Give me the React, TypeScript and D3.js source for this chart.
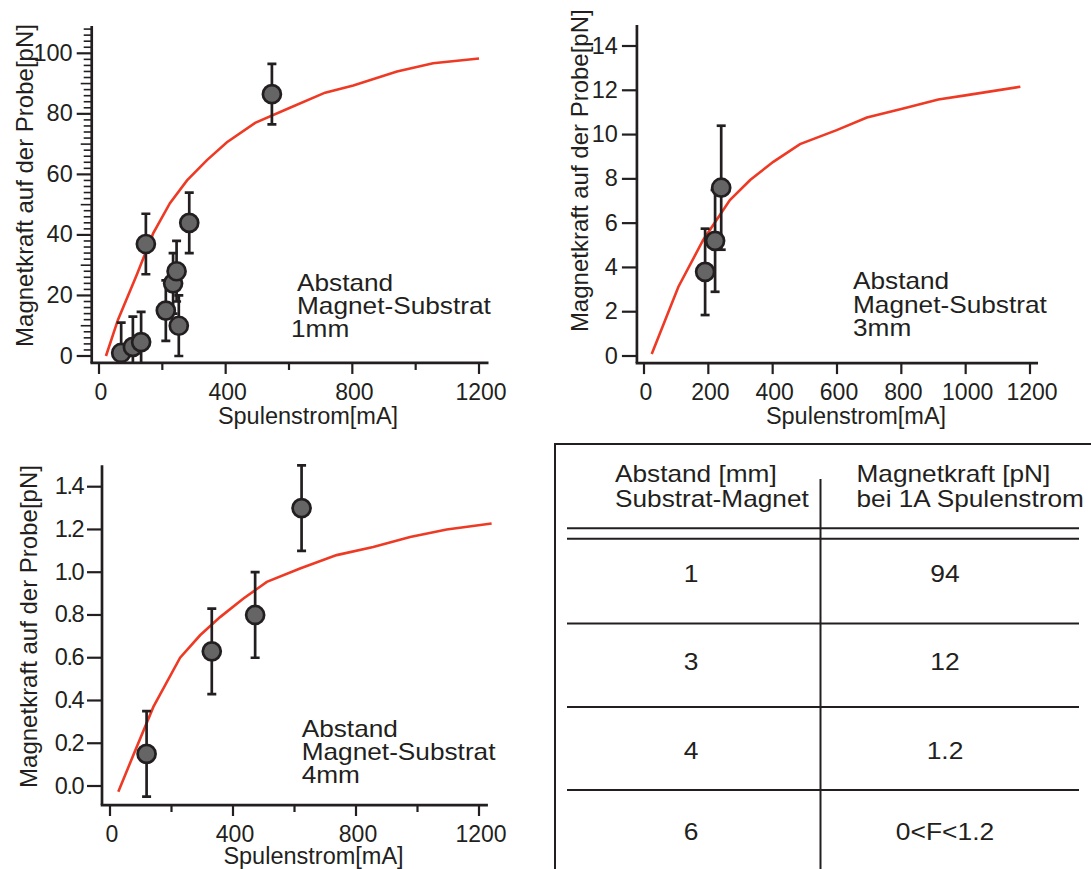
import React from 'react';
import * as d3 from 'd3';

// measured points, 1 mm distance
const current1mm = [70, 107, 133, 148, 211, 234, 245, 252, 285, 546];
const force1mm = [1, 3, 4.6, 37, 15, 24, 28, 10, 44, 86.5];
const err1mm = [10, 10, 10, 10, 10, 10, 10, 10, 10, 10];
const fitCurrent1mm = [22, 60, 120, 171, 224, 278, 341, 404, 493, 603, 714, 803, 941, 1055, 1200];
const fitForce1mm = [0, 12, 27, 40.5, 50.5, 58, 64.7, 70.6, 77, 82, 87, 89.4, 94, 96.7, 98.3];

// 3 mm
const current3mm = [190, 221, 240];
const force3mm = [3.8, 5.2, 7.6];
const err3mm = [1.95, 2.3, 2.8];
const fitCurrent3mm = [24, 107, 184, 267, 330, 402, 485, 599, 693, 806, 915, 1004, 1170];
const fitForce3mm = [0.09, 3.13, 5.24, 7.04, 7.95, 8.77, 9.57, 10.2, 10.77, 11.18, 11.58, 11.78, 12.16];

// 4 mm
const current4mm = [119, 331, 472, 623];
const force4mm = [0.15, 0.63, 0.8, 1.3];
const err4mm = [0.2, 0.2, 0.2, 0.2];
const fitCurrent4mm = [27, 76, 141, 228, 293, 358, 434, 510, 618, 737, 856, 976, 1095, 1241];
const fitForce4mm = [-0.027, 0.145, 0.37, 0.6, 0.705, 0.79, 0.877, 0.955, 1.017, 1.08, 1.118, 1.165, 1.2, 1.228];

const xTicks = [0, 200, 400, 600, 800, 1000, 1200];
const xLabelsSparse = [0, 400, 800, 1200];
const yTicks1mm = [0, 20, 40, 60, 80, 100];
const yTicks3mm = [0, 2, 4, 6, 8, 10, 12, 14];
const yTicks4mm = [0, 0.2, 0.4, 0.6, 0.8, 1.0, 1.2, 1.4];

const tableHeadLeft = ['Abstand [mm]', 'Substrat-Magnet'];
const tableHeadRight = ['Magnetkraft [pN]', 'bei 1A Spulenstrom'];
const tableDistance = ['1', '3', '4', '6'];
const tableForce = ['94', '12', '1.2', '0<F<1.2'];

const INK = '#231f20';
const RED = '#ee3a24';
const FONT = '"Liberation Sans", Arial, Helvetica, sans-serif';

type PanelProps = {
  id: string;
  cur: number[];
  force: number[];
  err: number[];
  fitX: number[];
  fitY: number[];
  xRange: [number, number];
  yDomain: [number, number];
  yRange: [number, number];
  xExt: [number, number];
  yExt: [number, number];
  xLabels: number[];
  yTicks: number[];
  yFmt: (v: number) => string;
  minor?: boolean;
  labelSpacing?: number;
  yTitle: [number, number];
  xTitle: [number, number];
  note: string;
  noteAt: [number, number];
  noteShift: number;
};

function Panel(p: PanelProps) {
  const x = d3.scaleLinear().domain([0, 1200]).range(p.xRange);
  const y = d3.scaleLinear().domain(p.yDomain).range(p.yRange);
  const left = x(p.xExt[0]);
  const right = x(p.xExt[1]);
  const bottom = y(p.yExt[0]);
  const top = y(p.yExt[1]);

  const line = d3.line<number>()
    .x(d => x(d))
    .y((_, i) => y(p.fitY[i]));

  const minorTicks = p.minor ? d3.range(0, p.yExt[1] + 0.01, 2).filter(v => v % 20 !== 0) : [];

  return (
    <g>
      <defs>
        <clipPath id={p.id}>
          <rect x={left} y={top - 20} width={right - left} height={bottom - top + 20} />
        </clipPath>
      </defs>

      {/* axes */}
      <line x1={left} x2={left} y1={top} y2={bottom} stroke={INK} strokeWidth={2.7} />
      <line x1={left - 1.3} x2={right} y1={bottom} y2={bottom} stroke={INK} strokeWidth={2.7} />

      {xTicks.map(t => {
        const labeled = p.xLabels.includes(t);
        return (
          <g key={'x' + t}>
            <line x1={x(t)} x2={x(t)} y1={bottom} y2={bottom + (labeled ? 11 : 7)} stroke={INK} strokeWidth={2.2} />
            {labeled && (
              <text x={x(t) + 2} y={bottom + 37} textAnchor="middle" fontSize={23} fill={INK}>{t}</text>
            )}
          </g>
        );
      })}

      {minorTicks.map(v => (
        <line key={'m' + v} x1={left - (v % 10 === 0 ? 11 : 8)} x2={left} y1={y(v)} y2={y(v)} stroke={INK} strokeWidth={1.6} />
      ))}

      {p.yTicks.map(t => (
        <g key={'y' + t}>
          <line x1={left - 15} x2={left} y1={y(t)} y2={y(t)} stroke={INK} strokeWidth={2.2} />
          <text x={left - 19} y={y(t) + 7.5} textAnchor="end" fontSize={23.5} fill={INK}
            letterSpacing={p.labelSpacing ?? 0}>{p.yFmt(t)}</text>
        </g>
      ))}

      {/* axis titles */}
      <text transform={`translate(${p.yTitle[0]},${p.yTitle[1]}) rotate(-90)`} textAnchor="middle" fontSize={24} fill={INK}>
        Magnetkraft auf der Probe[pN]
      </text>
      <text x={p.xTitle[0]} y={p.xTitle[1]} textAnchor="middle" fontSize={23.5} fill={INK}>Spulenstrom[mA]</text>

      {/* fit */}
      <path d={line(p.fitX) ?? ''} fill="none" stroke={RED} strokeWidth={2.6} />

      {/* error bars */}
      <g clipPath={`url(#${p.id})`}>
        {p.cur.map((c, i) => {
          const y0 = y(p.force[i] - p.err[i]);
          const y1 = y(p.force[i] + p.err[i]);
          return (
            <g key={'e' + i} stroke={INK} strokeWidth={2.7}>
              <line x1={x(c)} x2={x(c)} y1={y0} y2={y1} />
              <line x1={x(c) - 4.5} x2={x(c) + 4.5} y1={y0} y2={y0} />
              <line x1={x(c) - 4.5} x2={x(c) + 4.5} y1={y1} y2={y1} />
            </g>
          );
        })}
      </g>

      {p.cur.map((c, i) => (
        <circle key={'c' + i} cx={x(c)} cy={y(p.force[i])} r={9} fill="#656565" stroke={INK} strokeWidth={2.7} />
      ))}

      {/* annotation */}
      {['Abstand', 'Magnet-Substrat', p.note].map((s, i) => (
        <text key={s} transform={`translate(${p.noteAt[0] - (i === 2 ? p.noteShift : 0)},${p.noteAt[1] + i * 23.2}) scale(1.14,1)`}
          fontSize={23} fill={INK}>{s}</text>
      ))}
    </g>
  );
}

function Table() {
  const rowLines = [623.5, 707, 790];
  const baselines = [581.5, 670, 759, 840];
  return (
    <g fill={INK}>
      <path d="M555,875 V444 H1095" fill="none" stroke={INK} strokeWidth={2} />
      <line x1={820.5} x2={820.5} y1={479} y2={875} stroke={INK} strokeWidth={2} />
      <line x1={567} x2={1079} y1={528.3} y2={528.3} stroke={INK} strokeWidth={2} />
      <line x1={567} x2={1079} y1={538.8} y2={538.8} stroke={INK} strokeWidth={2} />
      {rowLines.map(v => (
        <line key={v} x1={567} x2={1079} y1={v} y2={v} stroke={INK} strokeWidth={2} />
      ))}
      {tableHeadLeft.map((s, i) => (
        <text key={s} transform={`translate(615,${482 + i * 24.7}) scale(1.14,1)`} fontSize={23}>{s}</text>
      ))}
      {tableHeadRight.map((s, i) => (
        <text key={s} transform={`translate(856.5,${482 + i * 24.7}) scale(1.14,1)`} fontSize={23}>{s}</text>
      ))}
      {tableDistance.map((s, i) => (
        <text key={'d' + i} transform={`translate(691,${baselines[i]}) scale(1.1,1)`} textAnchor="middle" fontSize={24}>{s}</text>
      ))}
      {tableForce.map((s, i) => (
        <text key={'f' + i} transform={`translate(945,${baselines[i]}) scale(1.1,1)`} textAnchor="middle" fontSize={24}>{s}</text>
      ))}
    </g>
  );
}

export default function App() {
  return (
    <svg width={1091} height={869} style={{ position: 'absolute', left: 0, top: 0, background: '#fff' }}
      fontFamily={FONT}>
      <rect width={1091} height={869} fill="#fff" />
      <Panel id="clip1" cur={current1mm} force={force1mm} err={err1mm} fitX={fitCurrent1mm} fitY={fitForce1mm}
        xRange={[99, 479]} yDomain={[0, 100]} yRange={[356, 53.3]} xExt={[-23, 1230]} yExt={[-2.3, 109]}
        xLabels={xLabelsSparse} yTicks={yTicks1mm} yFmt={v => String(v)} minor
        yTitle={[33, 185.5]} xTitle={[308, 424]} note="1mm" noteAt={[297, 291]} noteShift={6} />
      <Panel id="clip3" cur={current3mm} force={force3mm} err={err3mm} fitX={fitCurrent3mm} fitY={fitForce3mm}
        xRange={[644, 1030]} yDomain={[0, 14]} yRange={[356, 46]} xExt={[-22, 1225]} yExt={[-0.32, 14.95]}
        xLabels={xTicks} yTicks={yTicks3mm} yFmt={v => String(v)}
        yTitle={[588, 170.7]} xTitle={[856, 424]} note="3mm" noteAt={[853, 289.3]} noteShift={0} />
      <Panel id="clip4" cur={current4mm} force={force4mm} err={err4mm} fitX={fitCurrent4mm} fitY={fitForce4mm}
        xRange={[110, 479]} yDomain={[0, 1.4]} yRange={[786, 486.7]} xExt={[-26, 1229]} yExt={[-0.089, 1.5]}
        xLabels={xLabelsSparse} yTicks={yTicks4mm} yFmt={d3.format('.1f')} labelSpacing={-1.5}
        yTitle={[37, 626.5]} xTitle={[313.5, 864]} note="4mm" noteAt={[301.7, 736.7]} noteShift={0} />
      <Table />
    </svg>
  );
}
